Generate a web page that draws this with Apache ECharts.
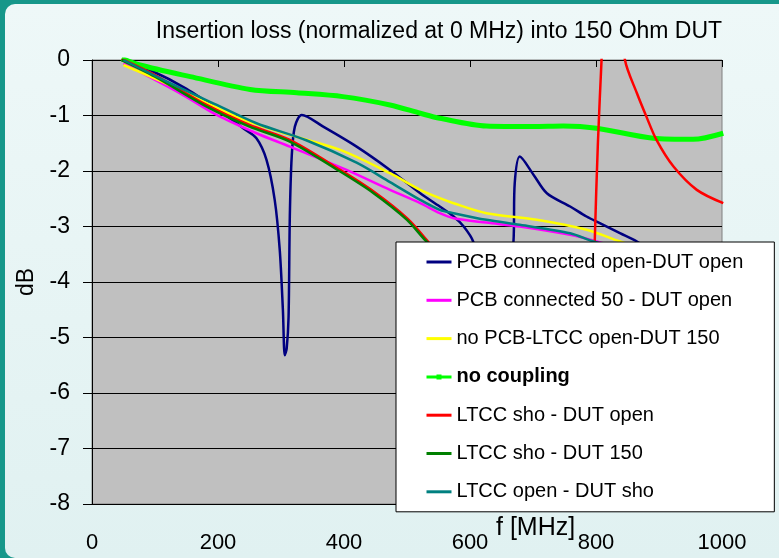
<!DOCTYPE html>
<html>
<head>
<meta charset="utf-8">
<script src="https://cdn.jsdelivr.net/npm/echarts@6/dist/echarts.min.js"></script>
<style>
  html, body { margin: 0; padding: 0; }
  #chart { width: 779px; height: 558px; }
</style>
</head>
<body>
<div id="chart"></div>
<script>
// tick labels / axis ranges
const xTicks = [0, 200, 400, 600, 800, 1000]
const yTicks = [0, -1, -2, -3, -4, -5, -6, -7, -8]

// PCB connected open-DUT open (navy)
const navyF = [47, 92, 150, 208, 240, 261, 277, 290, 298, 303, 306, 309, 312, 314, 317, 322, 333, 367, 420, 473, 521, 552, 574, 590, 605, 620, 635, 650, 662, 669, 671, 679, 701, 722, 759, 785, 806, 838, 865, 900, 950, 1000]
const navyDb = [0, -0.18, -0.52, -0.96, -1.23, -1.41, -1.8, -2.52, -3.42, -4.5, -5.32, -5.2, -4.63, -2.82, -1.74, -1.2, -0.99, -1.2, -1.56, -1.98, -2.4, -2.64, -2.82, -3.0, -3.27, -4.0, -5.0, -4.5, -3.8, -3.27, -2.22, -1.74, -2.07, -2.4, -2.64, -2.82, -2.94, -3.12, -3.27, -3.5, -3.8, -4.1]

// PCB connected 50 - DUT open (magenta)
const magF = [50, 140, 198, 261, 314, 404, 473, 521, 552, 574, 626, 679, 759, 801, 900, 1000]
const magDb = [-0.06, -0.6, -0.99, -1.32, -1.56, -1.98, -2.34, -2.58, -2.76, -2.85, -2.93, -3.0, -3.15, -3.27, -3.6, -4.0]

// no PCB-LTCC open-DUT 150 (yellow)
const yelF = [50, 129, 235, 314, 394, 473, 521, 552, 574, 626, 706, 785, 838, 900, 1000]
const yelDb = [-0.09, -0.48, -1.05, -1.35, -1.62, -2.04, -2.34, -2.49, -2.58, -2.76, -2.88, -3.06, -3.27, -3.5, -3.9]

// no coupling (green)
const grnF = [47, 76, 156, 251, 325, 398, 473, 521, 552, 626, 700, 748, 801, 891, 954, 1002]
const grnDb = [0.03, -0.09, -0.3, -0.53, -0.59, -0.66, -0.81, -0.96, -1.05, -1.19, -1.2, -1.19, -1.23, -1.41, -1.43, -1.32]

// LTCC sho - DUT open (red)
const redF = [47, 100, 182, 250, 314, 394, 447, 500, 531, 600, 700, 780, 792, 798, 803, 809, 815, 830, 840, 846, 865, 880, 896, 923, 960, 1002]
const redDb = [0.02, -0.27, -0.81, -1.17, -1.44, -1.98, -2.37, -2.85, -3.24, -4.2, -5.5, -7.0, -6.0, -3.27, -1.5, 0.05, 1.5, 2.0, 1.0, 0, -0.6, -1.02, -1.44, -1.92, -2.34, -2.58]

// LTCC sho - DUT 150 (dark green)
const dgrF = [47, 100, 182, 250, 314, 394, 447, 500, 531, 600, 700, 800, 900, 1000]
const dgrDb = [0, -0.3, -0.84, -1.2, -1.47, -2.01, -2.4, -2.88, -3.27, -4.0, -5.0, -6.0, -7.0, -8.0]

// LTCC open - DUT sho (teal)
const tealF = [50, 119, 198, 261, 341, 420, 473, 521, 552, 574, 626, 679, 759, 796, 900, 1000]
const tealDb = [0, -0.39, -0.81, -1.14, -1.45, -1.85, -2.2, -2.52, -2.7, -2.76, -2.88, -2.97, -3.12, -3.27, -3.6, -4.0]

const names = [
  'PCB connected open-DUT open',
  'PCB connected 50 - DUT open',
  'no PCB-LTCC open-DUT 150',
  'no coupling',
  'LTCC sho - DUT open',
  'LTCC sho - DUT 150',
  'LTCC open - DUT sho'
]

const pairs = (fs, ds) => fs.map((f, i) => [f, ds[i]])
const font = '"Liberation Sans", Arial, sans-serif'
// line with a small square marker, corner dots pin the box to 25x14
const markerIcon = 'path://M0,5.5H25V8.5H0Z M10,4.5H15V9.5H10Z M0,0H0.01V0.01H0Z M24.99,13.99H25V14H24.99Z'

function lineSeries (name, color, data, width) {
  return {
    name: name,
    type: 'line',
    xAxisIndex: 0,
    data: data,
    symbol: 'none',
    smooth: 0.3,
    lineStyle: { color: color, width: width || 2.5 },
    itemStyle: { color: color },
    emphasis: { disabled: true }
  }
}

const chart = echarts.init(document.getElementById('chart'))

const series = [
  lineSeries(names[0], '#000080', pairs(navyF, navyDb)),
  lineSeries(names[1], '#ff00ff', pairs(magF, magDb)),
  lineSeries(names[2], '#ffff00', pairs(yelF, yelDb)),
  Object.assign(lineSeries(names[3], '#00ff00', pairs(grnF, grnDb), 5), {
    symbol: 'rect', symbolSize: 5, showSymbol: false
  }),
  lineSeries(names[4], '#ff0000', pairs(redF, redDb)),
  lineSeries(names[5], '#008000', pairs(dgrF, dgrDb)),
  lineSeries(names[6], '#008080', pairs(tealF, tealDb))
]

chart.setOption({
  animation: false,
  textStyle: { fontFamily: font },
  graphic: [
    { type: 'rect', z: -20, silent: true, shape: { x: 0, y: 0, width: 779, height: 558 }, style: { fill: '#16978a' } },
    {
      type: 'rect', z: -19, silent: true,
      shape: { x: 5, y: 4, width: 790, height: 554, r: 10 },
      style: {
        fill: new echarts.graphic.LinearGradient(0, 0, 0, 1, [
          { offset: 0, color: '#eef8f8' },
          { offset: 1, color: '#e0f1f1' }
        ])
      }
    },
    {
      type: 'text', z: 10, left: 496, top: 516,
      style: { text: 'f [MHz]', font: '25px ' + font, fill: '#000' }
    }
  ],
  title: {
    text: 'Insertion loss (normalized at 0 MHz) into 150 Ohm DUT',
    left: 434,
    top: 15,
    textAlign: 'center',
    textStyle: { fontSize: 23, fontWeight: 'normal', color: '#000', fontFamily: font }
  },
  legend: {
    orient: 'vertical',
    left: 396,
    top: 242,
    padding: [10, 31, 10, 29],
    itemWidth: 25,
    itemHeight: 14,
    itemGap: 18.3,
    backgroundColor: '#ffffff',
    borderColor: '#000000',
    borderWidth: 1,
    borderRadius: 0,
    lineStyle: { width: 3 },
    itemStyle: { opacity: 0 },
    textStyle: { fontSize: 20, lineHeight: 20, color: '#000', fontFamily: font },
    data: names.map(n => n === 'no coupling'
      ? { name: n, icon: markerIcon, itemStyle: { opacity: 1 }, textStyle: { fontWeight: 'bold' } }
      : { name: n })
  },
  grid: {
    left: 92,
    top: 60,
    right: 57,
    bottom: 54,
    show: true,
    backgroundColor: '#c0c0c0',
    borderColor: '#808080',
    borderWidth: 1,
    outerBoundsMode: 'none'
  },
  xAxis: [
    {
      type: 'value',
      position: 'bottom',
      min: xTicks[0],
      max: xTicks[xTicks.length - 1],
      interval: 200,
      axisLine: { show: false },
      axisTick: { show: false },
      splitLine: { show: false },
      axisLabel: { fontSize: 22, color: '#000', margin: 28, fontFamily: font, formatter: v => String(v) }
    },
    {
      type: 'value',
      position: 'top',
      min: xTicks[0],
      max: xTicks[xTicks.length - 1],
      interval: 200,
      axisLine: { show: true, onZero: false, lineStyle: { color: '#000', width: 1 } },
      axisTick: { show: true, inside: true, length: 7, lineStyle: { color: '#000' } },
      axisLabel: { show: false },
      splitLine: { show: false }
    }
  ],
  yAxis: {
    type: 'value',
    min: yTicks[yTicks.length - 1],
    max: yTicks[0],
    interval: 1,
    name: 'dB',
    nameLocation: 'middle',
    nameGap: 51,
    nameRotate: 90,
    nameTextStyle: { fontSize: 23, color: '#000', fontFamily: font },
    axisLine: { show: true, onZero: false, lineStyle: { color: '#000', width: 1 } },
    axisTick: { show: true, length: 9, lineStyle: { color: '#000' } },
    axisLabel: { fontSize: 23, color: '#000', margin: 22, fontFamily: font },
    splitLine: { show: true, lineStyle: { color: '#000', width: 1 } }
  },
  series: series
})
</script>
</body>
</html>
